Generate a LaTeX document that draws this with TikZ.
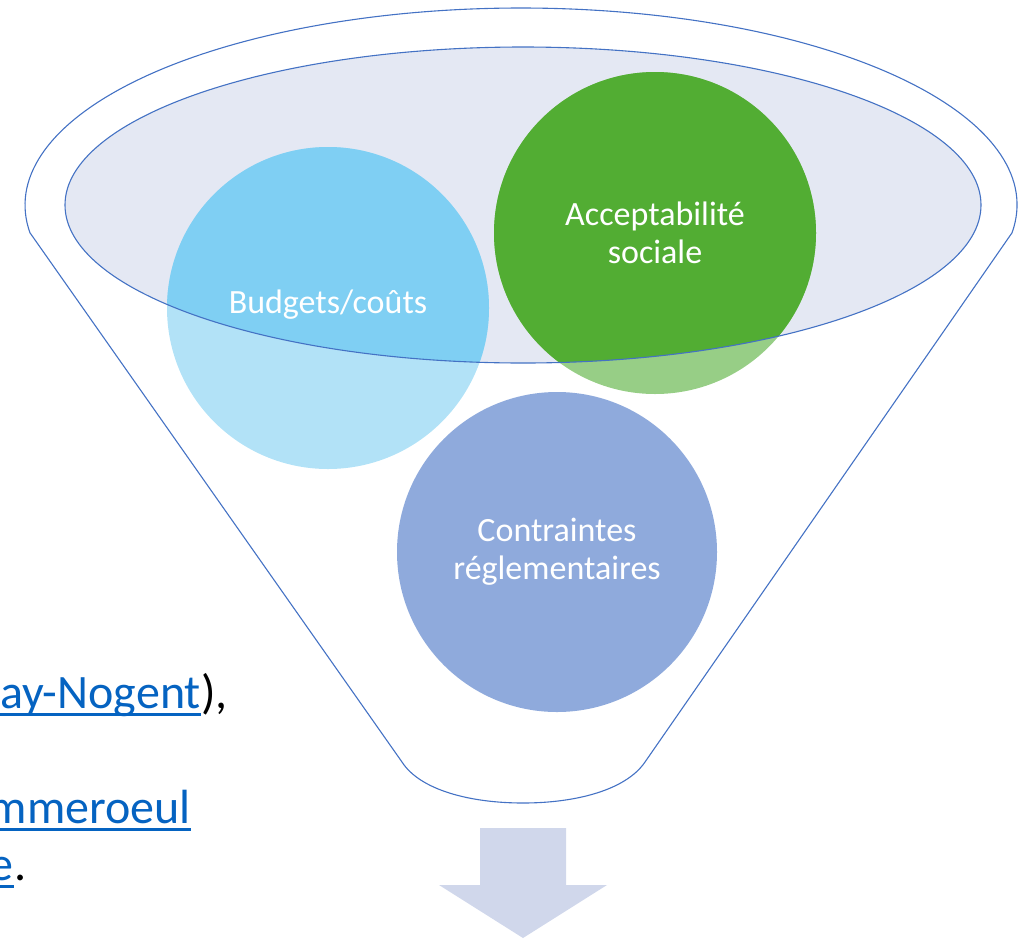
\documentclass[tikz,border=0pt]{standalone}
\usepackage{fontspec}
\setmainfont{Carlito}
\definecolor{lineblue}{HTML}{4472C4}
\definecolor{ellfill}{HTML}{E4E8F3}
\definecolor{budlight}{HTML}{B2E2F7}
\definecolor{budfull}{HTML}{7FCFF3}
\definecolor{acclight}{HTML}{97CE86}
\definecolor{accfull}{HTML}{52AD33}
\definecolor{confill}{HTML}{8FAADC}
\definecolor{arrowfill}{HTML}{D0D7EB}
\definecolor{linkblue}{HTML}{0563C1}
\newcommand\ulink[1]{\setbox0\hbox{#1}\rlap{\rule[-8pt]{\wd0}{3pt}}\box0}
\begin{document}
\begin{tikzpicture}[x=1pt,y=-1pt,
  outline/.style={draw=lineblue,line width=1.1pt},
  circ/.style={circle,minimum size=322pt,inner sep=0pt,draw=none},
  ctext/.style={text=white,align=center,font=\fontsize{34}{38}\selectfont},
  ltext/.style={inner sep=0pt,font=\fontsize{48}{52}\selectfont}]
\useasboundingbox (0,0) rectangle (1025,938);
% funnel outline
\draw[outline] (521,205) ++(8.1:496 and 197)
  arc[start angle=8.1,end angle=-188.1,x radius=496,y radius=197]
  -- (402,762) .. controls (420,790) and (470,803) .. (523,803)
  .. controls (576,803) and (626,790) .. (645,762) -- cycle;
% inner ellipse fill
\fill[ellfill] (523,205) ellipse[x radius=458,y radius=158];
% circles
\node[circ,fill=budlight] (bud) at (328,308) {};
\node[circ,fill=acclight] (acc) at (655,233) {};
\node[circ,fill=confill,minimum size=320pt] (con) at (557,552) {};
\begin{scope}
  \clip (523,205) ellipse[x radius=458,y radius=158];
  \fill[budfull] (bud.center) circle[radius=161];
  \fill[accfull] (acc.center) circle[radius=161];
\end{scope}
\draw[outline] (523,205) ellipse[x radius=458,y radius=158];
% labels
\node[ctext] (budtxt) at ([yshift=3pt]bud.center) {Budgets/coûts};
\node[ctext] (acctxt) at (acc.center) {Acceptabilité\\sociale};
\node[ctext] (contxt) at (con.center) {Contraintes\\réglementaires};
% arrow
\fill[arrowfill] (480,828) -- (566,828) -- (566,885) -- (607,885)
  -- (523,938) -- (439,885) -- (480,885) -- cycle;
% cut text on the left
\node[ltext,anchor=base east,text=linkblue] (t1) at (201,708) {\ulink{ay-Nogent}};
\node[ltext,anchor=base west] (t1b) at (t1.base east) {),};
\node[ltext,anchor=base east,text=linkblue] (t2) at (191,823) {\ulink{mmeroeul}};
\node[ltext,anchor=base east,text=linkblue] (t3) at (14,880) {\ulink{e}};
\node[ltext,anchor=base west] (t3b) at (t3.base east) {.};
\end{tikzpicture}
\end{document}
